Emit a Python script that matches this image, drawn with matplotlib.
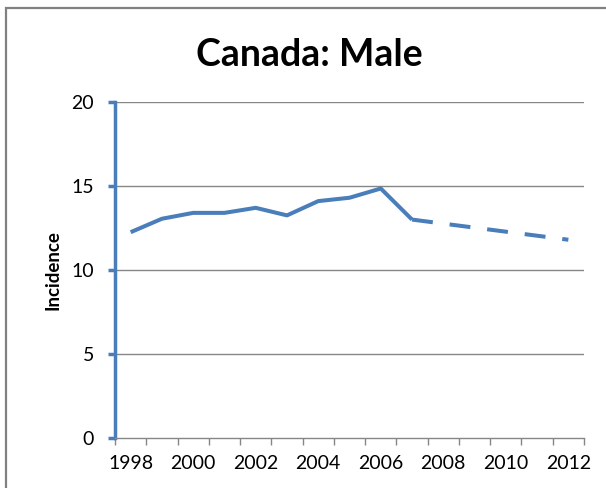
import numpy as np
import matplotlib.pyplot as plt
from matplotlib.patches import Rectangle

# Observed incidence (solid) and projection (dashed)
years = list(range(1998, 2013))
obs_years = list(range(1998, 2008))
obs_vals = [12.25, 13.05, 13.4, 13.4, 13.7, 13.25, 14.1, 14.3, 14.85, 13.0]
proj_years = list(range(2007, 2013))
proj_vals = [13.0, 12.76, 12.52, 12.28, 12.04, 11.8]
label_years = [1998, 2000, 2002, 2004, 2006, 2008, 2010, 2012]

blue = "#4A7EBB"
grey = "#868686"
font = ["Lato", "DejaVu Sans"]

fig = plt.figure(figsize=(6.06, 4.88), dpi=100)
ax = fig.add_axes([0.1898, 0.1025, 0.7739, 0.6885])

# positions on the category axis
xo = [years.index(y) for y in obs_years]
xp = [years.index(y) for y in proj_years]
ax.plot(xo, obs_vals, color=blue, lw=2.9, solid_capstyle="butt", solid_joinstyle="round", zorder=3)
ax.plot(xp, proj_vals, color=blue, lw=2.9, dashes=(5.2, 4.2), dash_capstyle="butt", zorder=3)

ax.set_xlim(-0.5, len(years) - 0.5)
ax.set_ylim(0, 20)
ax.set_yticks([0, 5, 10, 15, 20])
ax.set_yticklabels(["0", "5", "10", "15", "20"], fontsize=14, family=font)
ax.set_xticks([years.index(y) for y in label_years])
ax.set_xticklabels([str(y) for y in label_years], fontsize=14, family=font)
ax.set_xticks(np.arange(-0.5, len(years)), minor=True)
ax.tick_params(axis="x", which="major", length=0, pad=12)
ax.tick_params(axis="x", which="minor", length=5, width=1, color=grey, direction="out")
ax.tick_params(axis="y", length=5, width=2.5, color=blue, direction="out", pad=10)

for v in [5, 10, 15, 20]:
    ax.axhline(v, color=grey, lw=1, zorder=1)

for s in ["top", "right"]:
    ax.spines[s].set_visible(False)
ax.spines["left"].set_color(blue)
ax.spines["left"].set_linewidth(2.5)
ax.spines["bottom"].set_color(grey)
ax.spines["bottom"].set_linewidth(1)

ax.set_ylabel("Incidence", fontsize=13.5, fontweight="bold", family=font, labelpad=7)
fig.text(0.51, 0.887, "Canada: Male", ha="center", va="center", fontsize=27,
         fontweight="bold", family=font)

# chart area border (only left and top visible in the picture)
fig.patches.append(Rectangle((0.0107, -0.1), 1.1, 1.084, transform=fig.transFigure,
                             fill=False, edgecolor="#808080", lw=1.6))

fig.savefig("out.png", dpi=100)
